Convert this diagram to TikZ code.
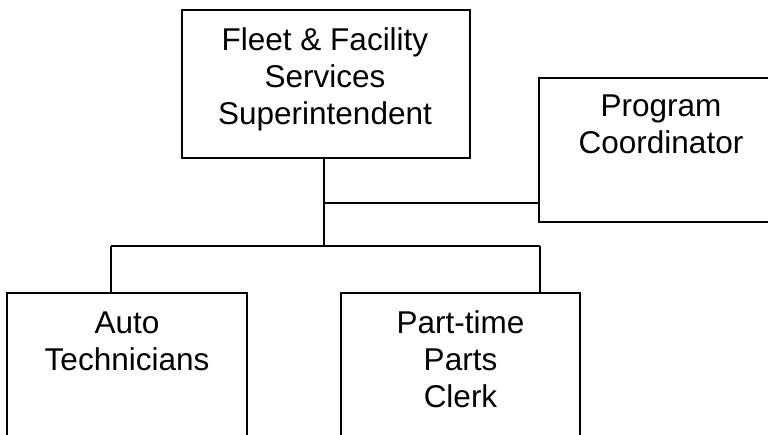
\documentclass[tikz,border=0pt]{standalone}
\usepackage{fontspec}
\setmainfont{Liberation Sans}
\begin{document}
\begin{tikzpicture}[x=1pt,y=1pt,
  box/.style={draw=black,line width=1.4pt,rectangle,inner sep=0pt,fill=none},
  lbl/.style={align=center,inner sep=0pt,anchor=base,font=\fontsize{31.5}{37}\selectfont},
  conn/.style={line width=1.4pt}]
\useasboundingbox (0,0) rectangle (768,-434);
\clip (0,0) rectangle (768,-434);
% boxes
\node[box,minimum width=288pt,minimum height=148pt] (top) at (326,-84) {};
\node[box,minimum width=244pt,minimum height=144pt] (prog) at (661,-150) {};
\node[box,minimum width=240pt,minimum height=180pt] (auto) at (127,-383) {};
\node[box,minimum width=239pt,minimum height=180pt] (clerk) at (460.5,-383) {};
% texts (anchored at the baseline of their last line)
\node[lbl] (toptxt) at (325,-124) {Fleet \& Facility\\Services\\Superintendent};
\node[lbl] (progtxt) at (661,-153) {Program\\Coordinator};
\node[lbl] (autotxt) at (127,-370) {Auto\\Technicians};
\node[lbl] (clerktxt) at (460.5,-407) {Part-time\\Parts\\Clerk};
% connectors
\coordinate (stem) at (324,-158);
\coordinate (j1) at (324,-203);
\coordinate (j2) at (324,-246);
\coordinate (bl) at (111,-246);
\coordinate (br) at (540,-246);
\draw[conn] (stem) -- (j2);
\draw[conn] (j1) -- (j1 -| prog.west);
\draw[conn] (bl) -- (br);
\draw[conn] (bl) -- (bl |- auto.north);
\draw[conn] (br) -- (br |- clerk.north);
\end{tikzpicture}
\end{document}
